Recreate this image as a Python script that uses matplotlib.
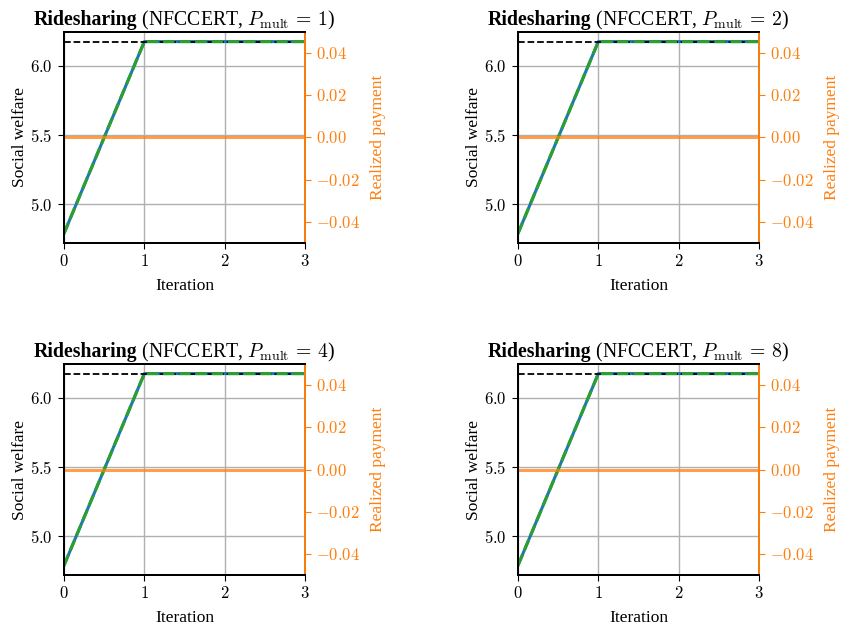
import matplotlib
matplotlib.use("Agg")
import matplotlib.pyplot as plt
from matplotlib.ticker import FuncFormatter

plt.rcParams["font.family"] = ["Liberation Serif", "DejaVu Serif"]
plt.rcParams["mathtext.fontset"] = "cm"

# Iteration data shared by all four runs
iterations = [0, 1, 2, 3]
p_mult_values = [1, 2, 4, 8]
welfare_runs = {
    1: [4.79, 6.175, 6.175, 6.175],
    2: [4.79, 6.175, 6.175, 6.175],
    4: [4.79, 6.175, 6.175, 6.175],
    8: [4.79, 6.175, 6.175, 6.175],
}
welfare_alt_runs = {
    1: [4.79, 6.175, 6.175, 6.175],
    2: [4.79, 6.175, 6.175, 6.175],
    4: [4.79, 6.175, 6.175, 6.175],
    8: [4.79, 6.175, 6.175, 6.175],
}
optimal_welfare = 6.175
payment_runs = {
    1: [0.0, 0.0, 0.0, 0.0],
    2: [0.0, 0.0, 0.0, 0.0],
    4: [0.0, 0.0, 0.0, 0.0],
    8: [0.0, 0.0, 0.0, 0.0],
}
left_ticks = [5.0, 5.5, 6.0]
right_ticks = [-0.04, -0.02, 0.0, 0.02, 0.04]

W, H = 842, 631
fig = plt.figure(figsize=(W / 100, H / 100), dpi=100)

# pixel boxes (left, right, top, bottom)
boxes = [
    (64, 305, 32, 243),
    (518, 759, 32, 243),
    (64, 305, 364, 575),
    (518, 759, 364, 575),
]

orange = "#ff7f0e"
TICK_FS = 12
LABEL_FS = 12.5
TITLE_FS = 14.2


def math_fmt(decimals):
    def f(v, pos):
        s = f"{v:.{decimals}f}"
        if s.startswith("-"):
            s = "-" + s[1:]
        return f"${s}$"
    return FuncFormatter(f)


titles = []
for pm, (l, r, t, b) in zip(p_mult_values, boxes):
    ax = fig.add_axes([l / W, 1 - b / H, (r - l) / W, (b - t) / H])
    ax.plot(iterations, welfare_runs[pm], color="#1f77b4", lw=2.2, zorder=3)
    ax.plot([iterations[0], iterations[-1]], [optimal_welfare, optimal_welfare],
            color="black", ls="--", lw=1.3, zorder=4)
    ax.plot(iterations, welfare_alt_runs[pm], color="#2ca02c", ls="--", lw=2.2, zorder=5)
    ax.set_xlim(iterations[0], iterations[-1])
    ax.set_xticks(iterations)
    ax.set_yticks(left_ticks)
    ax.xaxis.set_major_formatter(math_fmt(0))
    ax.yaxis.set_major_formatter(math_fmt(1))
    ax.grid(True, color="#b0b0b0", lw=1)
    ax.set_axisbelow(True)
    ax.set_xlabel("Iteration", fontsize=LABEL_FS, labelpad=5.5)
    ax.set_ylabel("Social welfare", fontsize=LABEL_FS, labelpad=1.5)
    ax.tick_params(labelsize=TICK_FS, length=4.5)
    for s in ax.spines.values():
        s.set_linewidth(1.4)

    ax2 = ax.twinx()
    ax2.plot(iterations, payment_runs[pm], color=orange, lw=2.2, alpha=0.75)
    ax2.set_ylim(-0.05, 0.05)
    ax2.set_yticks(right_ticks)
    ax2.yaxis.set_major_formatter(math_fmt(2))
    ax2.set_ylabel("Realized payment", color=orange, fontsize=LABEL_FS, labelpad=7)
    ax2.tick_params(axis="y", colors=orange, labelsize=TICK_FS, length=4.5)
    for s in ax2.spines.values():
        s.set_linewidth(1.4)
    ax2.spines["right"].set_color(orange)

    # Title made of a bold name followed by the run description
    t_bold = fig.text(0, 0, "Ridesharing", fontsize=TITLE_FS, fontweight="bold")
    t_rest = fig.text(0, 0, r" (NFCCERT, $P_{\rm mult}\,=\,%d$)" % pm, fontsize=TITLE_FS)
    titles.append(((l + r) / 2, t - 7, t_bold, t_rest))

fig.canvas.draw()
renderer = fig.canvas.get_renderer()
for cx, base_y, t_bold, t_rest in titles:
    w1 = t_bold.get_window_extent(renderer).width
    w2 = t_rest.get_window_extent(renderer).width
    x0 = cx - (w1 + w2) / 2
    t_bold.set_position((x0 / W, 1 - base_y / H))
    t_bold.set_va("baseline")
    t_rest.set_position(((x0 + w1) / W, 1 - base_y / H))
    t_rest.set_va("baseline")

fig.savefig("out.png", dpi=100)
